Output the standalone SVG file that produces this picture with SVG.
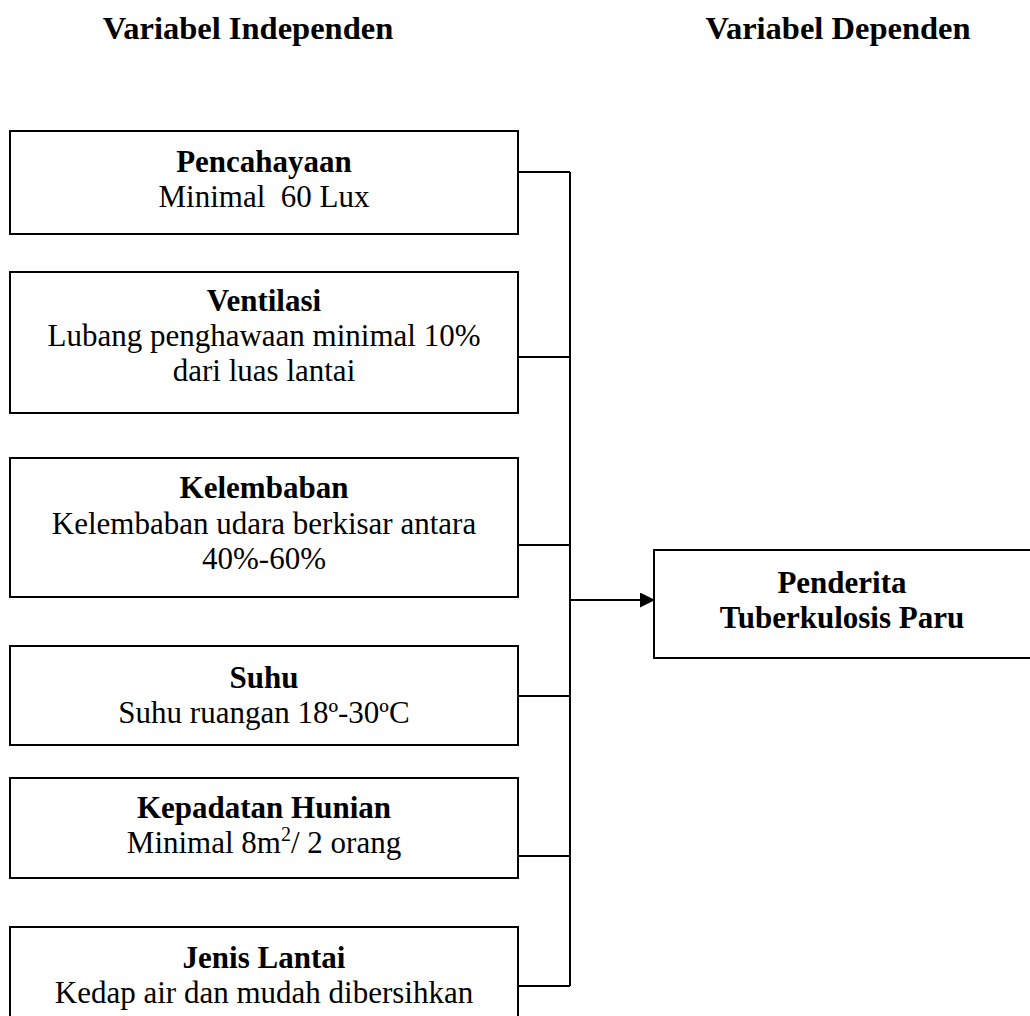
<svg xmlns="http://www.w3.org/2000/svg" width="1030" height="1016" viewBox="0 0 1030 1016">
<defs>
<style>
text{font-family:"Liberation Serif","Times New Roman",serif;font-size:31px;fill:#000;text-anchor:middle}
.b{font-weight:bold}
.h{font-size:32.5px}
.box{fill:#fff;stroke:#000;stroke-width:2}
.ln{fill:none;stroke:#000;stroke-width:2}
</style>
<marker id="ah" markerWidth="15" markerHeight="15" refX="14" refY="7.5" orient="auto" markerUnits="userSpaceOnUse">
<path d="M0,0 L15,7.5 L0,15 z" fill="#000"/>
</marker>
</defs>
<rect width="1030" height="1016" fill="#fff"/>
<g id="headers">
<text class="b h" x="248" y="39">Variabel Independen</text>
<text class="b h" x="838" y="39">Variabel Dependen</text>
</g>
<g id="connectors">
<path class="ln" d="M518,172 H570 M518,357 H570 M518,545 H570 M518,696 H570 M518,856 H570 M518,986 H570 M570,172 V986"/>
<path class="ln" d="M570,600 H654" marker-end="url(#ah)"/>
</g>
<g id="n1">
<rect class="box" x="10" y="131" width="508" height="103"/>
<text class="b" x="264" y="172">Pencahayaan</text>
<text x="264" y="207">Minimal&#160; 60 Lux</text>
</g>
<g id="n2">
<rect class="box" x="10" y="272" width="508" height="141"/>
<text class="b" x="264" y="311">Ventilasi</text>
<text x="264" y="346">Lubang penghawaan minimal 10%</text>
<text x="264" y="381">dari luas lantai</text>
</g>
<g id="n3">
<rect class="box" x="10" y="458" width="508" height="139"/>
<text class="b" x="264" y="498">Kelembaban</text>
<text x="264" y="534">Kelembaban udara berkisar antara</text>
<text x="264" y="569">40%-60%</text>
</g>
<g id="n4">
<rect class="box" x="10" y="646" width="508" height="99"/>
<text class="b" x="264" y="688">Suhu</text>
<text x="264" y="723">Suhu ruangan 18º-30ºC</text>
</g>
<g id="n5">
<rect class="box" x="10" y="778" width="508" height="100"/>
<text class="b" x="264" y="818">Kepadatan Hunian</text>
<text x="264" y="853">Minimal 8m<tspan dy="-12" font-size="20">2</tspan><tspan dy="12">/ 2 orang</tspan></text>
</g>
<g id="n6">
<rect class="box" x="10" y="927" width="508" height="100"/>
<text class="b" x="264" y="968">Jenis Lantai</text>
<text x="264" y="1003">Kedap air dan mudah dibersihkan</text>
</g>
<g id="target">
<rect class="box" x="654" y="550" width="390" height="108"/>
<text class="b" x="842" y="593">Penderita</text>
<text class="b" x="842" y="628">Tuberkulosis Paru</text>
</g>
</svg>
